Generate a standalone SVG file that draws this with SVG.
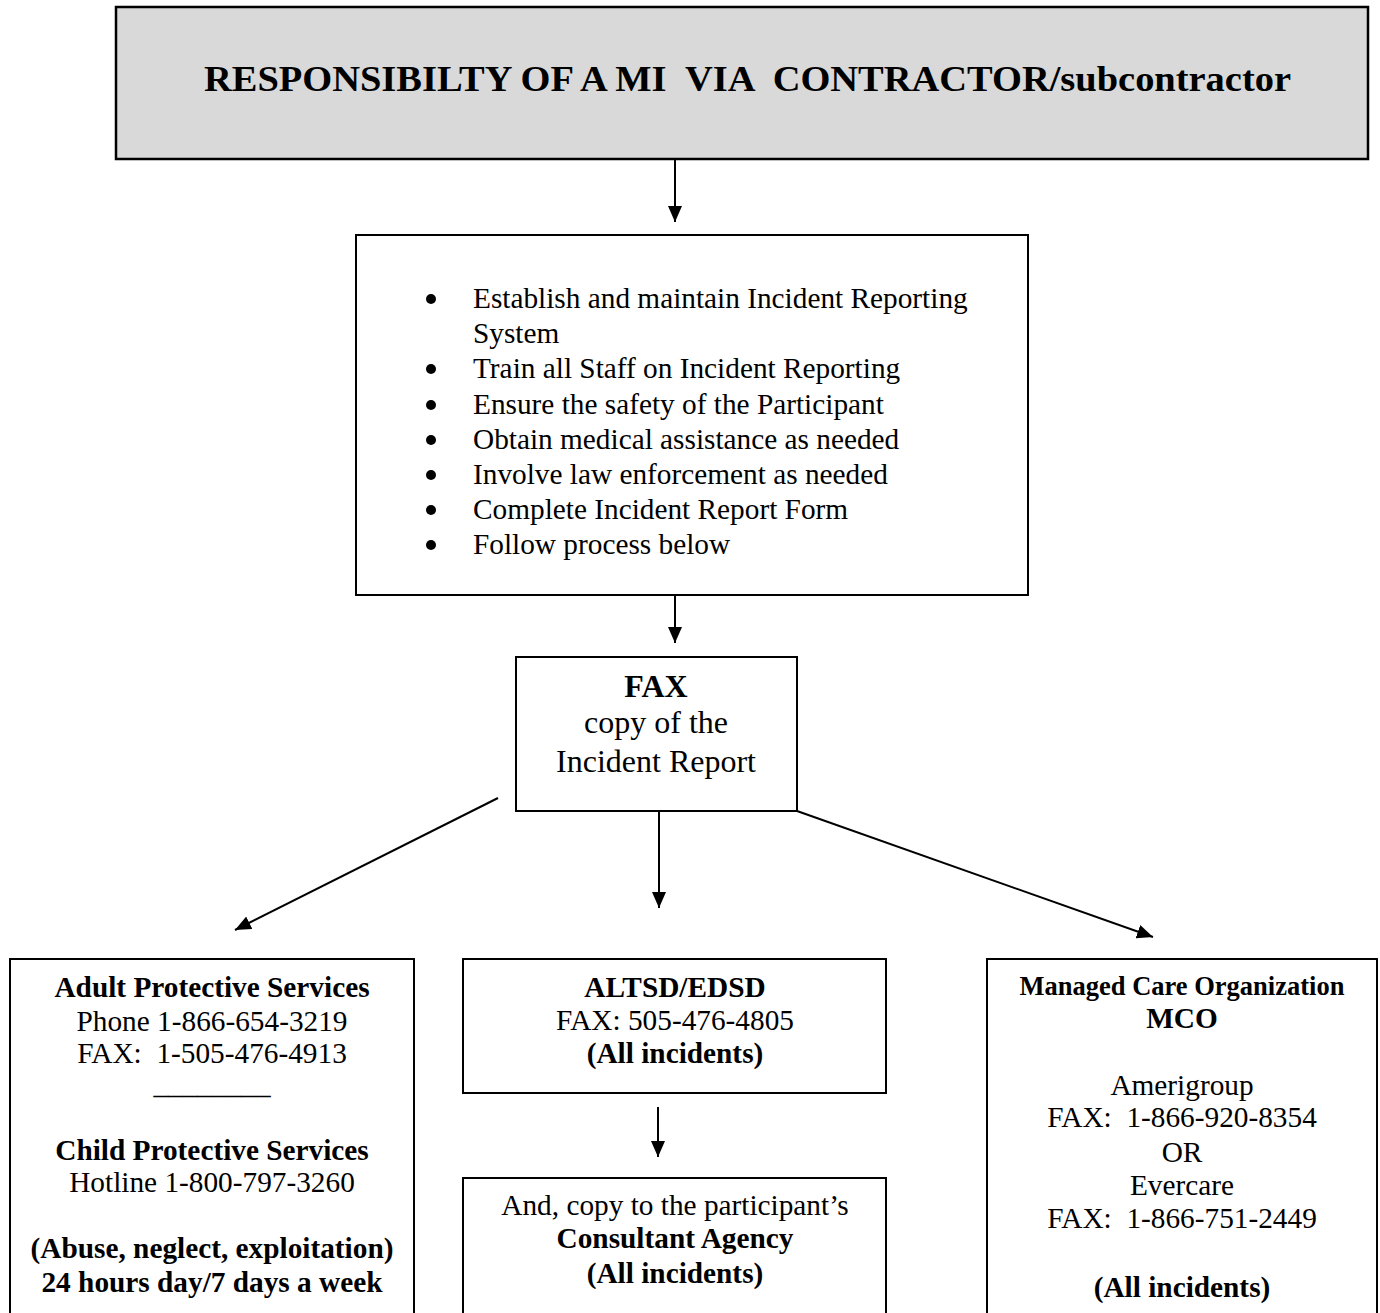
<svg xmlns="http://www.w3.org/2000/svg" width="1380" height="1313" viewBox="0 0 1380 1313">
<style>
text{font-family:"Liberation Serif","Times New Roman",serif;fill:#000;white-space:pre}
.n{font-size:29.3px}
.b{font-size:29.3px;font-weight:bold}
.c{text-anchor:middle}
.box{fill:#fff;stroke:#000;stroke-width:2}
.conn line{stroke:#000;stroke-width:2;marker-end:url(#ah)}
</style>
<defs>
<marker id="ah" markerUnits="userSpaceOnUse" viewBox="0 0 16 14" refX="16" refY="7" markerWidth="16" markerHeight="14" orient="auto">
<path d="M0,0 L16,7 L0,14 z" fill="#000"/>
</marker>
</defs>
<rect width="1380" height="1313" fill="#fff"/>

<g id="title">
<rect x="116" y="7" width="1252" height="152" fill="#d9d9d9" stroke="#000" stroke-width="2.5"/>
<text x="204" y="91" style="font-size:36px;font-weight:bold" textLength="1087" lengthAdjust="spacingAndGlyphs">RESPONSIBILTY OF A MI  VIA  CONTRACTOR/subcontractor</text>
</g>

<g id="duties">
<rect class="box" x="356" y="235" width="672" height="360"/>
<circle cx="431" cy="299" r="5"/>
<circle cx="431" cy="369" r="5"/>
<circle cx="431" cy="405" r="5"/>
<circle cx="431" cy="440" r="5"/>
<circle cx="431" cy="475" r="5"/>
<circle cx="431" cy="510" r="5"/>
<circle cx="431" cy="545" r="5"/>
<text class="n" x="473" y="308">Establish and maintain Incident Reporting</text>
<text class="n" x="473" y="343">System</text>
<text class="n" x="473" y="378">Train all Staff on Incident Reporting</text>
<text class="n" x="473" y="414">Ensure the safety of the Participant</text>
<text class="n" x="473" y="449">Obtain medical assistance as needed</text>
<text class="n" x="473" y="484">Involve law enforcement as needed</text>
<text class="n" x="473" y="519">Complete Incident Report Form</text>
<text class="n" x="473" y="554">Follow process below</text>
</g>

<g id="fax">
<rect class="box" x="516" y="657" width="281" height="154"/>
<text class="c" x="656" y="697" style="font-size:32px;font-weight:bold">FAX</text>
<text class="c" x="656" y="733" style="font-size:32px">copy of the</text>
<text class="c" x="656" y="772" style="font-size:32px">Incident Report</text>
</g>

<g id="aps">
<rect class="box" x="10" y="959" width="404" height="380"/>
<text class="b c" x="212" y="997">Adult Protective Services</text>
<text class="n c" x="212" y="1031">Phone 1-866-654-3219</text>
<text class="n c" x="212" y="1063">FAX:  1-505-476-4913</text>
<text class="n c" x="212" y="1094">________</text>
<text class="b c" x="212" y="1160">Child Protective Services</text>
<text class="n c" x="212" y="1192">Hotline 1-800-797-3260</text>
<text class="b c" x="212" y="1258">(Abuse, neglect, exploitation)</text>
<text class="b c" x="212" y="1292">24 hours day/7 days a week</text>
</g>

<g id="altsd">
<rect class="box" x="463" y="959" width="423" height="134"/>
<text class="b c" x="675" y="997">ALTSD/EDSD</text>
<text class="n c" x="675" y="1030">FAX: 505-476-4805</text>
<text class="b c" x="675" y="1063">(All incidents)</text>
</g>

<g id="consultant">
<rect class="box" x="463" y="1178" width="423" height="160"/>
<text class="n c" x="675" y="1215">And, copy to the participant’s</text>
<text class="b c" x="675" y="1248">Consultant Agency</text>
<text class="b c" x="675" y="1283">(All incidents)</text>
</g>

<g id="mco">
<rect class="box" x="987" y="959" width="390" height="380"/>
<text class="c" x="1182" y="995" style="font-size:26.5px;font-weight:bold">Managed Care Organization</text>
<text class="b c" x="1182" y="1028">MCO</text>
<text class="n c" x="1182" y="1095">Amerigroup</text>
<text class="n c" x="1182" y="1127">FAX:  1-866-920-8354</text>
<text class="n c" x="1182" y="1162">OR</text>
<text class="n c" x="1182" y="1195">Evercare</text>
<text class="n c" x="1182" y="1228">FAX:  1-866-751-2449</text>
<text class="b c" x="1182" y="1297">(All incidents)</text>
</g>

<g id="connectors" class="conn">
<line x1="675" y1="160" x2="675" y2="222"/>
<line x1="675" y1="596" x2="675" y2="643"/>
<line x1="498" y1="798" x2="235" y2="930"/>
<line x1="659" y1="812" x2="659" y2="908"/>
<line x1="797" y1="811" x2="1153" y2="937"/>
<line x1="658" y1="1107" x2="658" y2="1157"/>
</g>
</svg>
